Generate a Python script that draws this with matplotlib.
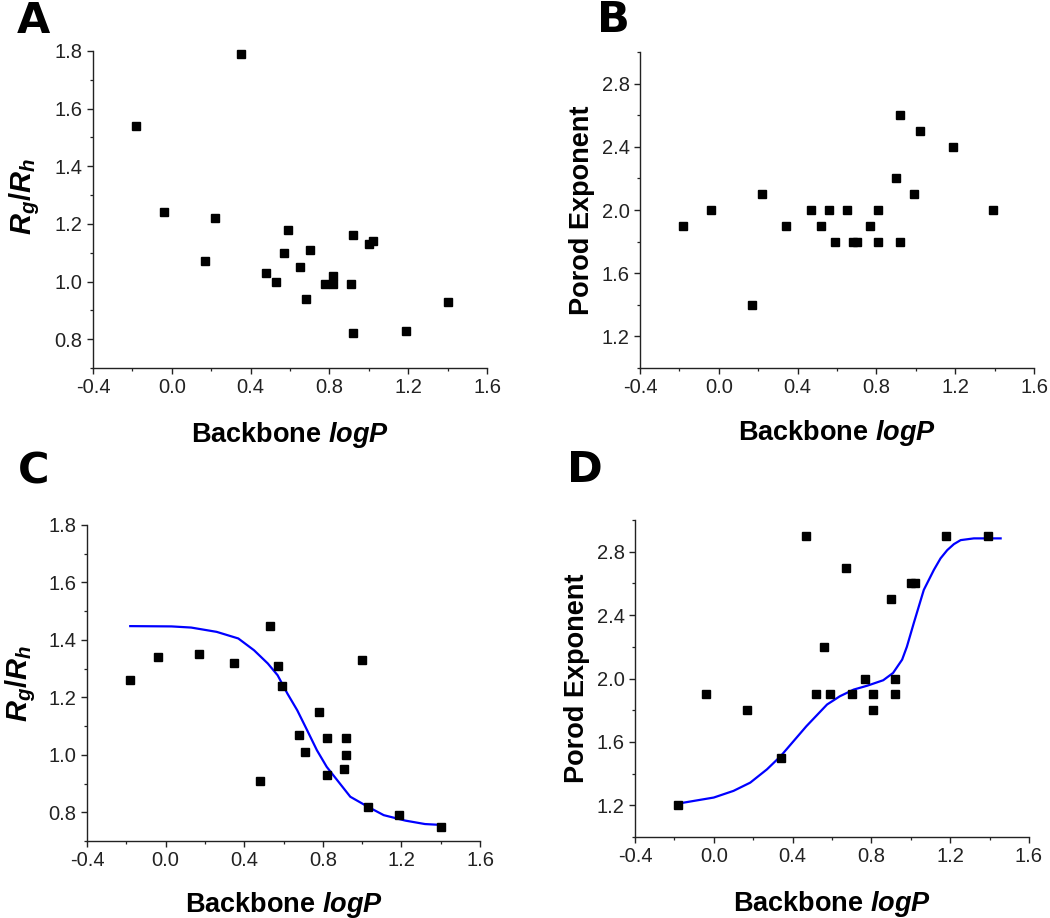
import matplotlib
matplotlib.use("Agg")
import matplotlib.pyplot as plt
from matplotlib.ticker import MultipleLocator, FixedLocator

# ---------------- data ----------------
A_x = [-0.18, 0.35, -0.04, 0.22, 0.17, 0.59, 0.57, 0.70, 0.48, 0.53, 0.65,
       0.68, 0.78, 0.82, 0.82, 0.91, 0.92, 1.00, 1.02, 0.92, 1.19, 1.40]
A_y = [1.54, 1.79, 1.24, 1.22, 1.07, 1.18, 1.10, 1.11, 1.03, 1.00, 1.05,
       0.94, 0.99, 1.02, 0.99, 0.99, 1.16, 1.13, 1.14, 0.82, 0.83, 0.93]

B_x = [-0.18, -0.04, 0.17, 0.22, 0.34, 0.47, 0.52, 0.56, 0.59, 0.65, 0.68,
       0.70, 0.77, 0.81, 0.81, 0.90, 0.92, 0.92, 0.99, 1.02, 1.19, 1.39]
B_y = [1.9, 2.0, 1.4, 2.1, 1.9, 2.0, 1.9, 2.0, 1.8, 2.0, 1.8,
       1.8, 1.9, 2.0, 1.8, 2.2, 2.6, 1.8, 2.1, 2.5, 2.4, 2.0]

C_x = [-0.18, -0.04, 0.17, 0.35, 0.53, 0.48, 0.57, 0.59, 0.68, 0.71,
       0.78, 0.82, 0.82, 0.91, 0.92, 0.92, 1.00, 1.03, 1.19, 1.40]
C_y = [1.26, 1.34, 1.35, 1.32, 1.45, 0.91, 1.31, 1.24, 1.07, 1.01,
       1.15, 1.06, 0.93, 0.95, 1.06, 1.00, 1.33, 0.82, 0.79, 0.75]

C_fit_x = [-0.18, 0.03, 0.13, 0.26, 0.37, 0.45, 0.52, 0.57, 0.62, 0.67,
           0.72, 0.77, 0.82, 0.88, 0.94, 1.03, 1.11, 1.22, 1.32, 1.40]
C_fit_y = [1.448, 1.447, 1.443, 1.428, 1.405, 1.364, 1.318, 1.277, 1.213, 1.155,
           1.086, 1.016, 0.958, 0.906, 0.854, 0.819, 0.790, 0.771, 0.759, 0.756]

D_x = [-0.18, -0.04, 0.17, 0.34, 0.47, 0.52, 0.56, 0.59, 0.67, 0.70,
       0.77, 0.81, 0.81, 0.90, 0.92, 0.92, 1.00, 1.02, 1.18, 1.39]
D_y = [1.2, 1.9, 1.8, 1.5, 2.9, 1.9, 2.2, 1.9, 2.7, 1.9,
       2.0, 1.9, 1.8, 2.5, 2.0, 1.9, 2.6, 2.6, 2.9, 2.9]

D_fit_x = [-0.18, -0.10, 0.00, 0.10, 0.185, 0.27, 0.34, 0.405, 0.47, 0.575,
           0.64, 0.71, 0.78, 0.86, 0.91, 0.956, 0.98, 1.015, 1.066, 1.117,
           1.151, 1.185, 1.219, 1.253, 1.32, 1.456]
D_fit_y = [1.211, 1.228, 1.249, 1.291, 1.343, 1.427, 1.511, 1.605, 1.699, 1.836,
           1.888, 1.930, 1.955, 1.989, 2.035, 2.119, 2.200, 2.349, 2.559, 2.685,
           2.758, 2.810, 2.848, 2.873, 2.884, 2.884]

x_ticks = [-0.4, 0.0, 0.4, 0.8, 1.2, 1.6]
rg_ticks = [0.8, 1.0, 1.2, 1.4, 1.6, 1.8]
porod_ticks = [1.2, 1.6, 2.0, 2.4, 2.8]

x_label = "Backbone $logP$"
rg_label = "$R_g/R_h$"
porod_label = "Porod Exponent"
panel_letters = ["A", "B", "C", "D"]

# ---------------- style ----------------
plt.rcParams['font.family'] = ['Liberation Sans', 'DejaVu Sans']
plt.rcParams['mathtext.fontset'] = 'custom'
plt.rcParams['mathtext.it'] = 'Liberation Sans:bold:italic'
plt.rcParams['mathtext.rm'] = 'Liberation Sans:bold'
plt.rcParams['mathtext.bf'] = 'Liberation Sans:bold'

W, H = 1050, 918
fig = plt.figure(figsize=(W / 100, H / 100), dpi=100)


def px_axes(x0, y0, x1, y1):
    return fig.add_axes([x0 / W, 1 - y1 / H, (x1 - x0) / W, (y1 - y0) / H])


tick_color = '#222222'


def style(ax, ylim, yticks, yminor, ylabel, xpad, ylab_size, ylab_xy=None):
    ax.set_xlim(-0.4, 1.6)
    ax.set_ylim(*ylim)
    ax.xaxis.set_major_locator(FixedLocator(x_ticks))
    ax.xaxis.set_minor_locator(MultipleLocator(0.2))
    ax.yaxis.set_major_locator(FixedLocator(yticks))
    ax.yaxis.set_minor_locator(MultipleLocator(yminor))
    ax.set_xticklabels([f"{t:.1f}" for t in x_ticks])
    ax.set_yticklabels([f"{t:.1f}" for t in yticks])
    for s in ['top', 'right']:
        ax.spines[s].set_visible(False)
    for s in ['left', 'bottom']:
        ax.spines[s].set_linewidth(1.0)
        ax.spines[s].set_color(tick_color)
    ax.tick_params(which='major', direction='out', length=4.5, width=1.0,
                   labelsize=14.5, colors=tick_color, pad=3)
    ax.tick_params(which='minor', direction='out', length=2.5, width=0.9,
                   colors=tick_color)
    ax.set_xlabel(x_label, fontsize=19.5, fontweight='bold', labelpad=xpad)
    ax.set_ylabel(ylabel, fontsize=ylab_size, fontweight='bold', labelpad=5)
    if ylab_xy is not None:
        ax.yaxis.set_label_coords(*ylab_xy)


axA = px_axes(93, 51, 487, 368)
axB = px_axes(640, 52, 1034, 368)
axC = px_axes(87, 525, 480, 841)
axD = px_axes(635, 520, 1029, 837)

ms = 5.5
axA.plot(A_x, A_y, 's', color='black', ms=ms, clip_on=False)
style(axA, (0.7, 1.8), rg_ticks, 0.1, rg_label, 16, 21, (-0.13, 0.54))

axB.plot(B_x, B_y, 's', color='black', ms=ms, clip_on=False)
style(axB, (1.0, 3.0), porod_ticks, 0.2, porod_label, 15, 19.5)

axC.plot(C_fit_x, C_fit_y, '-', color='#0000ff', lw=1.6)
axC.plot(C_x, C_y, 's', color='black', ms=ms, clip_on=False)
style(axC, (0.7, 1.8), rg_ticks, 0.1, rg_label, 14, 21, (-0.125, 0.50))

axD.plot(D_fit_x, D_fit_y, '-', color='#0000ff', lw=1.6)
axD.plot(D_x, D_y, 's', color='black', ms=ms, clip_on=False)
style(axD, (1.0, 3.0), porod_ticks, 0.2, porod_label, 16, 19.5)

letter_pos = [(17, 33), (597, 32), (18, 483), (567, 482)]
for (lx, ly), letter in zip(letter_pos, panel_letters):
    fig.text(lx / W, 1 - ly / H, letter, fontsize=31, fontweight='bold',
             family='DejaVu Sans', va='baseline', ha='left', color='black')

fig.savefig("out.png", dpi=100)
